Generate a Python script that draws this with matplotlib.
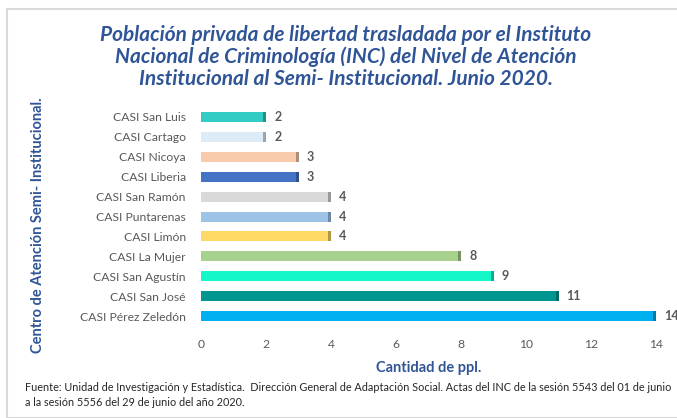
import numpy as np
import matplotlib.pyplot as plt
from matplotlib.patches import Rectangle
from matplotlib.colors import to_rgb

plt.rcParams['font.family'] = ['Lato', 'DejaVu Sans']

centros = ['CASI San Luis', 'CASI Cartago', 'CASI Nicoya', 'CASI Liberia',
           'CASI San Ramón', 'CASI Puntarenas', 'CASI Limón', 'CASI La Mujer',
           'CASI San Agustín', 'CASI San José', 'CASI Pérez Zeledón']
cantidad = [2, 2, 3, 3, 4, 4, 4, 8, 9, 11, 14]
colores = ['#33CCC4', '#DDEBF7', '#F8CBAD', '#4472C4', '#D9D9D9', '#9DC3E6',
           '#FFD966', '#A9D18E', '#14F7C9', '#009590', '#00B0F0']

azul = '#2F5597'
gris = '#595959'

fig = plt.figure(figsize=(6.77, 4.18), dpi=100)
# marco del grafico
fig.patches.append(Rectangle((7/677, 0), 1, 1 - 9/418, transform=fig.transFigure,
                             fill=False, edgecolor='#D9D9D9', linewidth=1.5))

ax = fig.add_axes([201/677, 0.22, 455/677, 0.524])
y = np.arange(len(centros))
ax.barh(y, cantidad, height=0.5, color=colores)
# borde oscuro al final de cada barra (efecto 3D)
osc = [tuple(c * 0.7 for c in to_rgb(col)) for col in colores]
ax.barh(y, 0.08, left=np.array(cantidad) - 0.08, height=0.5, color=osc)
for yi, v in zip(y, cantidad):
    ax.text(v + 0.25, yi, str(v), va='center', ha='left', fontsize=9,
            fontweight='bold', color=gris)

ax.set_ylim(len(centros) - 0.5, -0.5)
ax.set_xlim(0, 14)
ax.set_xticks(range(0, 15, 2))
ax.set_yticks(y)
ax.set_yticklabels(centros)
for s in ax.spines.values():
    s.set_visible(False)
ax.tick_params(axis='both', length=0, labelsize=8.7, labelcolor=gris)
ax.tick_params(axis='x', pad=9)
ax.tick_params(axis='y', pad=11)

ax.set_xlabel('Cantidad de ppl.', fontsize=10.5, fontweight='bold', color=azul, labelpad=8)
fig.text(38/677, 1 - 225/418, 'Centro de Atención Semi- Institucional.', rotation=90,
         ha='center', va='center', fontsize=10.5, fontweight='bold', color=azul)

fig.text(346/677, 1 - 57/418,
         'Población privada de libertad trasladada por el Instituto\n'
         'Nacional de Criminología (INC) del Nivel de Atención\n'
         'Institucional al Semi- Institucional. Junio 2020.',
         ha='center', va='center', fontsize=15, fontweight='bold', style='italic',
         color=azul, linespacing=1.08)

fig.text(25/677, 1 - 395/418,
         'Fuente: Unidad de Investigación y Estadística.  Dirección General de Adaptación Social. '
         'Actas del INC de la sesión 5543 del 01 de junio\n'
         'a la sesión 5556 del 29 de junio del año 2020.',
         ha='left', va='center', fontsize=7.8, color='#262626', linespacing=1.35)

fig.savefig('out.png', dpi=100)
